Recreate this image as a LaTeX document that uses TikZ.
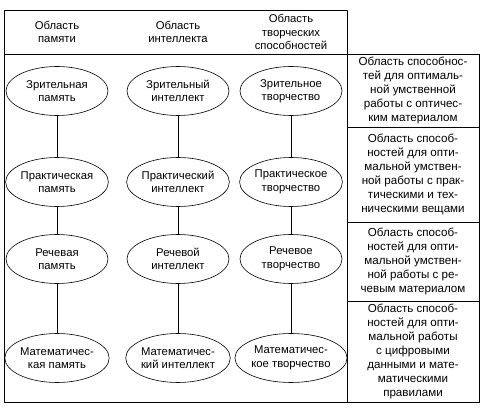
\documentclass[tikz,border=0pt]{standalone}
\usepackage{fontspec}
\setmainfont{Liberation Sans}
\usetikzlibrary{shapes.geometric}
\begin{document}
\begin{tikzpicture}[x=1pt, y=-1pt, line join=round, semithick, font=\fontsize{11.3}{13.5}\selectfont,
	oval/.style={draw, ellipse, minimum width=102pt, minimum height=49pt, inner sep=0pt, align=center},
	head/.style={align=center},
	side/.style={align=center, font=\fontsize{11.6}{14}\selectfont}]
	\useasboundingbox (0,0) rectangle (483,409);
	% frames
	\draw (4,10) rectangle (347,402);
	\draw (4,54) -- (347,54);
	\draw (347,54) rectangle (479,127);
	\draw (347,127) rectangle (479,222);
	\draw (347,222) rectangle (479,301);
	\draw (347,301) rectangle (479,402);
	% headers
	\node[head] (hp) at (57,32) {Область\\памяти};
	\node[head] (hi) at (178,32) {Область\\интеллекта};
	\node[head] (ht) at (291,32) {Область\\творческих\\способностей};
	% ellipses
	\node[oval] (p1) at (57,91) {Зрительная\\память};
	\node[oval] (p2) at (57,182) {Практическая\\память};
	\node[oval] (p3) at (57,259) {Речевая\\память};
	\node[oval] (p4) at (57,358) {Математичес-\\кая память};
	\node[oval] (i1) at (178,91) {Зрительный\\интеллект};
	\node[oval] (i2) at (178,182) {Практический\\интеллект};
	\node[oval] (i3) at (178,259) {Речевой\\интеллект};
	\node[oval] (i4) at (178,358) {Математичес-\\кий интеллект};
	\node[oval] (t1) at (291,91) {Зрительное\\творчество};
	\node[oval] (t2) at (291,182) {Практическое\\творчество};
	\node[oval] (t3) at (291,259) {Речевое\\творчество};
	\node[oval] (t4) at (291,358) {Математичес-\\кое творчество};
	\foreach \c in {p,i,t}
		\foreach \a/\b in {1/2,2/3,3/4} \draw (\c\a) -- (\c\b);
	% right column
	\node[side] (s1) at (413,90.5) {Область способнос-\\тей для оптималь-\\ной умственной\\работы с оптичес-\\ким материалом};
	\node[side] (s2) at (413,174.5) {Область способ-\\ностей для опти-\\мальной умствен-\\ной работы с прак-\\тическими и тех-\\ническими вещами};
	\node[side] (s3) at (413,261.5) {Область способ-\\ностей для опти-\\мальной умствен-\\ной работы с ре-\\чевым материалом};
	\node[side] (s4) at (413,351.5) {Область способ-\\ностей для опти-\\мальной работы\\с цифровыми\\данными и мате-\\матическими\\правилами};
\end{tikzpicture}
\end{document}
